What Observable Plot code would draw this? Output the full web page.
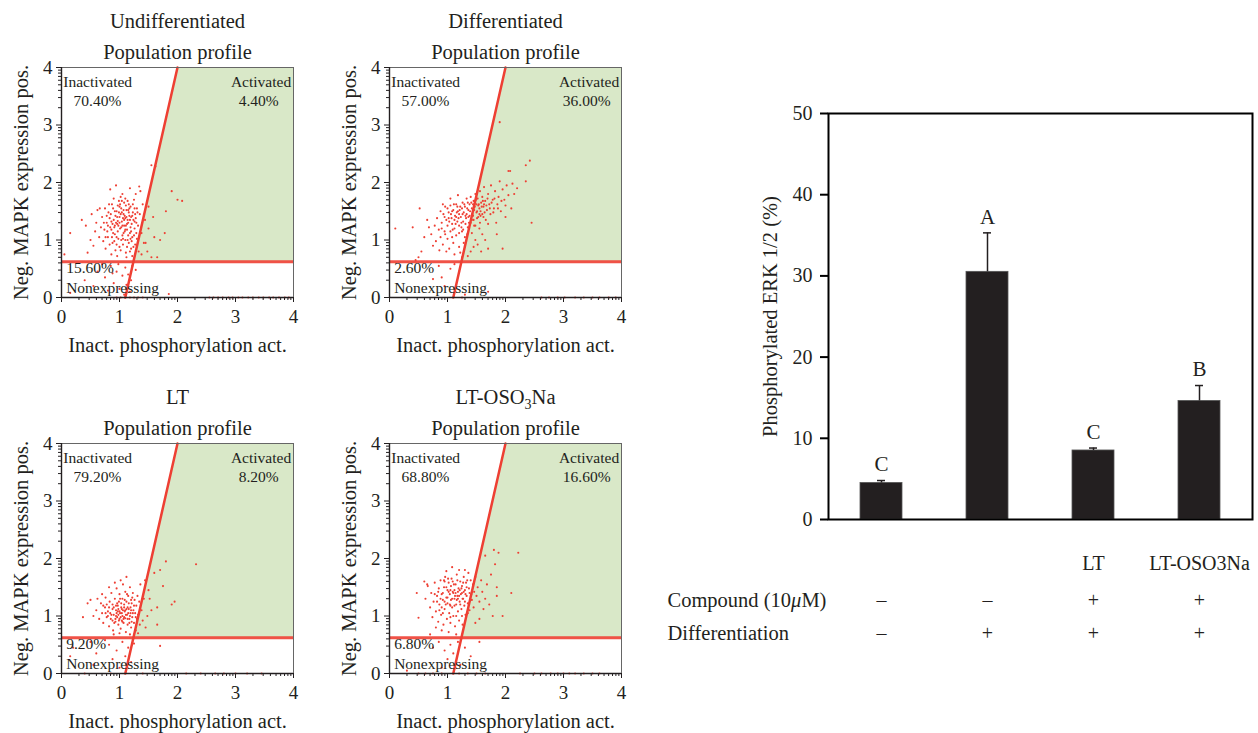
<!DOCTYPE html>
<html>
<head>
<meta charset="utf-8">
<script src="https://cdn.jsdelivr.net/npm/d3@7"></script>
<script src="https://cdn.jsdelivr.net/npm/@observablehq/plot@0.6"></script>
<style>
  body { margin: 0; background: #fff; }
  #wrap { position: relative; width: 1258px; height: 733px; overflow: hidden; background: #fff; }
  #wrap svg { position: absolute; }
</style>
</head>
<body>
<div id="wrap"></div>
<script>
// ---------------- DATA ----------------
const panelTitles = ["Undifferentiated", "Differentiated", "LT", "LT-OSO3Na"];
const panelSubtitle = "Population profile";
const inactivatedPct = ["70.40%", "57.00%", "79.20%", "68.80%"];
const activatedPct = ["4.40%", "36.00%", "8.20%", "16.60%"];
const nonexpressingPct = ["15.60%", "2.60%", "9.20%", "6.80%"];
const scatterXLabel = "Inact. phosphorylation act.";
const scatterYLabel = "Neg. MAPK expression pos.";
const scatterTicks = [0, 1, 2, 3, 4];
const gateLine = [[1.1, 0], [2.0, 4]];   // diagonal gate (x at y=0, x at y=4)
const gateY = 0.62;                      // horizontal gate

const undiffPoints = [
[0.62,1.52],[0.70,1.40],[0.68,1.22],[0.75,1.55],[0.78,1.30],[0.80,1.05],[0.82,1.62],[0.85,1.45],[0.86,1.18],[0.88,0.95],[0.90,1.72],[0.90,1.35],[0.92,1.10],[0.93,0.82],[0.95,1.50],[0.96,1.28],[0.97,1.60],[0.98,1.02],[1.00,1.40],[1.00,0.88],[1.01,1.20],[1.02,1.75],[1.03,1.55],[1.04,1.32],[1.05,1.08],[1.06,0.92],[1.07,1.45],[1.08,1.65],[1.08,1.25],[1.10,1.38],[1.10,1.00],[1.11,0.78],[1.12,1.52],[1.13,1.18],[1.14,1.68],[1.15,1.30],[1.16,0.95],[1.17,1.42],[1.18,1.12],[1.19,1.58],[1.20,0.85],[1.21,1.28],[1.22,1.05],[1.23,1.48],[1.25,1.70],[1.26,1.20],[1.27,0.92],[1.28,1.38],[1.30,1.55],[1.30,1.02],[1.32,1.25],[1.33,0.80],[1.35,1.45],[1.36,1.85],[1.38,1.12],[1.40,1.62],[1.42,0.95],[0.72,0.98],[0.76,0.85],[0.65,1.05],[0.58,1.15],[0.55,0.90],[0.84,1.88],[0.94,1.95],[1.05,1.80],[1.18,1.90],[1.28,1.80],[1.34,1.93],[0.98,1.25],[1.09,1.15],[0.88,1.28],[1.03,1.00],[1.14,1.35],[0.93,1.42],[1.24,1.35],[0.79,1.15],[1.00,1.58],[1.12,0.70],[0.96,0.72],[0.86,0.75],[1.22,0.72],[1.38,0.75],[0.83,1.38],[0.91,1.22],[0.99,1.48],[1.06,1.38],[1.11,1.25],[1.16,1.48],[1.20,1.40],[1.26,1.55],[0.89,1.55],[0.81,1.48],[0.74,1.18],[0.95,1.05],[1.04,1.68],[1.13,0.88],[1.19,1.02],[1.29,1.12],[0.97,1.33],[1.07,1.52],[0.87,1.05],[1.02,0.82],
[0.84,1.22],[0.87,1.62],[0.91,0.98],[0.94,1.30],[0.97,1.15],[1.01,1.62],[1.03,1.22],[1.06,1.02],[1.09,1.42],[1.11,1.60],[1.13,1.28],[1.15,1.08],[1.17,1.55],[1.19,1.22],[1.21,0.98],[1.23,1.62],[1.25,1.08],[1.27,1.45],[1.29,1.30],[1.31,1.48],[0.86,1.32],[0.89,1.12],[0.92,1.50],[0.95,0.92],[0.99,1.68],[1.02,1.45],[1.05,1.25],[1.08,1.35],[1.10,1.18],[1.12,1.40],[1.14,1.00],[1.16,1.62],[1.18,1.35],[1.20,1.15],[1.22,1.42],[1.24,0.88],[1.26,1.32],[0.78,1.42],[0.80,1.25],[0.83,0.92],[0.76,1.05],[0.73,1.30],[1.00,1.30],[1.04,1.48],[1.07,1.12],[1.10,1.72],[0.96,1.40],[0.92,1.25],[1.15,1.52],[1.18,0.80],
[0.15,1.12],[0.35,1.35],[0.05,0.75],[0.42,1.25],[0.50,1.00],[0.45,0.78],[0.60,1.30],[0.52,1.45],[0.66,1.55],
[0.62,0.45],[0.75,0.35],[0.85,0.55],[0.90,0.25],[0.95,0.45],[1.00,0.15],[1.05,0.38],[1.10,0.52],[1.12,0.22],[1.15,0.40],[1.18,0.10],[1.20,0.30],[1.22,0.55],[0.80,0.12],[0.70,0.58],[0.15,0.08],[0.40,0.30],[1.28,0.48],[0.55,0.20],[0.98,0.58],[1.08,0.05],[0.88,0.42],
[1.55,2.30],[1.62,2.28],[1.90,1.85],[2.00,1.70],[2.08,1.68],[1.80,1.50],[1.58,1.40],[1.70,1.00],[1.78,1.12],[1.60,1.05],[1.50,1.20],[1.45,0.95],[1.55,0.70],[1.65,0.70],[1.48,0.80],[1.44,1.35],[1.50,1.58],
[0.95,0],[1.02,0],[1.10,0],[1.18,0],[1.25,0],[1.32,0],[1.40,0],[1.85,0.06],[2.55,0],[2.62,0],[2.70,0],[2.78,0],[2.88,0],[2.95,0],[3.05,0],[3.12,0],[3.22,0],[3.30,0],[3.40,0],[3.48,0],[3.58,0],[3.65,0],[3.75,0],[3.85,0],[3.92,0]
];

const diffPoints = [
[0.72,1.10],[0.78,1.25],[0.80,0.98],[0.82,1.38],[0.85,1.18],[0.88,1.50],[0.88,1.05],[0.90,1.30],[0.92,0.92],[0.93,1.45],[0.95,1.15],[0.96,1.58],[0.98,1.35],[1.00,1.02],[1.00,1.25],[1.02,1.48],[1.03,0.85],[1.05,1.60],[1.05,1.15],[1.07,1.38],[1.08,1.28],[1.10,1.52],[1.10,0.95],[1.12,1.20],[1.13,1.42],[1.15,1.62],[1.15,1.08],[1.17,1.32],[1.18,1.50],[1.20,0.88],[1.20,1.25],[1.22,1.58],[1.23,1.40],[1.25,1.15],[1.26,1.65],[1.27,1.32],[1.28,1.48],[1.30,1.05],[1.30,1.58],[1.32,1.38],[1.33,1.72],[1.35,1.22],[1.36,1.52],[1.38,1.62],[1.38,1.42],[1.40,1.30],[1.40,1.75],[1.42,1.55],[1.43,1.45],[1.45,1.68],[1.45,1.35],[1.47,1.58],[1.48,1.80],[1.50,1.48],[1.50,1.62],[1.52,1.72],[1.53,1.40],[1.55,1.55],[1.56,1.85],[1.58,1.65],[1.60,1.45],[1.60,1.75],[1.62,1.58],[1.63,1.92],[1.65,1.68],[1.66,1.35],[1.68,1.52],[1.70,1.80],[1.72,1.62],[1.74,1.45],[1.75,1.95],[1.78,1.70],[1.80,1.55],[1.82,1.85],[1.84,1.30],[1.86,1.62],[1.88,1.75],[1.90,2.02],[1.92,1.50],[1.95,1.88],[1.98,1.70],[2.00,1.60],[2.02,1.95],[2.05,1.78],[2.08,2.20],[2.10,1.55],[2.12,1.98],[2.15,1.80],[2.20,1.90],[1.34,1.10],[1.42,1.12],[1.48,1.00],[1.55,1.20],[1.60,1.10],[1.65,1.00],[1.70,1.28],[1.52,0.92],[1.45,0.88],[1.40,0.80],[1.35,0.72],[1.58,0.80],[1.70,0.85],[1.48,1.25],[1.56,1.30],[1.28,0.95],[1.22,0.78],[1.12,0.75],[0.98,0.80],[0.86,0.82],[0.75,0.90],[0.68,1.22],[0.65,1.35],[0.92,1.62],[1.05,1.72],[1.18,1.78],[1.25,0.70],[1.02,1.38],[1.08,1.05],[1.15,1.40],[1.20,1.45],[1.24,1.22],[1.31,1.28],[1.36,1.40],[1.44,1.62],[1.51,1.50],[1.57,1.42],[1.63,1.62],
[0.95,1.40],[1.00,1.55],[1.03,1.32],[1.06,1.45],[1.09,1.18],[1.11,1.62],[1.14,1.28],[1.16,1.48],[1.19,1.38],[1.21,1.52],[1.24,1.30],[1.26,1.45],[1.29,1.62],[1.31,1.42],[1.34,1.55],[1.37,1.30],[1.39,1.50],[1.41,1.65],[1.44,1.42],[1.46,1.52],[1.49,1.70],[1.51,1.38],[1.54,1.62],[1.57,1.50],[1.59,1.58],[1.61,1.68],[1.64,1.48],[1.67,1.60],[1.69,1.72],[1.73,1.55],[1.76,1.65],[1.79,1.48],[1.81,1.72],[1.87,1.55],[1.93,1.68],[1.20,1.12],[1.27,1.18],[1.33,1.45],[1.46,1.25],[1.53,1.60],[0.90,1.20],[0.96,1.10],[1.08,1.50],[1.17,1.58],[1.35,1.65],[1.42,1.35],[1.55,1.45],[1.62,1.40],[1.25,1.55],[1.12,1.35],
[0.10,1.20],[0.40,1.22],[0.52,1.55],[0.55,0.80],[0.50,0.70],[0.45,0.65],[0.60,1.05],[1.90,3.05],[2.35,2.30],[2.42,2.38],[2.35,2.02],[2.05,2.20],[2.45,1.30],[1.95,0.85],[2.00,1.40],[1.85,1.10],
[0.85,0.55],[0.90,0.35],[1.05,0.50],[1.20,0.45],[0.75,0.32],[1.30,0.05],[1.70,0.10],[0.95,0.20],[1.12,0.58],
[1.25,0],[2.62,0],[2.75,0],[2.90,0],[3.02,0],[3.20,0],[3.35,0],[3.50,0],[3.62,0],[3.78,0],[3.90,0]
];

const ltPoints = [
[0.60,1.10],[0.65,0.95],[0.68,1.22],[0.70,1.05],[0.72,0.88],[0.75,1.15],[0.76,1.32],[0.78,0.98],[0.80,1.08],[0.82,0.82],[0.83,1.25],[0.85,0.95],[0.86,1.40],[0.88,1.12],[0.89,0.75],[0.90,1.02],[0.92,1.30],[0.93,0.90],[0.94,1.18],[0.95,1.48],[0.96,0.98],[0.97,1.08],[0.98,0.85],[0.99,1.25],[1.00,0.95],[1.00,1.38],[1.01,1.05],[1.02,0.78],[1.03,1.15],[1.04,0.92],[1.05,1.30],[1.05,1.00],[1.06,1.55],[1.07,0.88],[1.08,1.20],[1.09,1.08],[1.10,0.96],[1.10,1.42],[1.11,0.72],[1.12,1.25],[1.13,1.02],[1.14,0.85],[1.15,1.35],[1.16,1.12],[1.17,0.95],[1.18,1.50],[1.19,1.05],[1.20,0.80],[1.21,1.22],[1.22,0.98],[1.23,1.40],[1.24,1.10],[1.25,0.88],[1.26,1.28],[1.27,1.05],[1.28,0.75],[1.29,1.18],[1.30,0.95],[1.31,1.35],[1.32,1.02],[1.34,1.25],[1.35,0.85],[1.36,1.55],[1.38,1.10],[1.40,0.92],[1.42,1.30],[1.44,1.62],[0.92,1.58],[1.02,1.62],[1.12,1.68],[0.84,1.05],[0.94,1.00],[1.04,1.12],[0.98,1.02],[1.08,0.98],[0.88,0.92],[1.14,1.15],[0.78,1.20],[0.70,1.38],[0.62,1.30],[0.55,1.00],[0.90,0.68],[1.00,0.70],[1.18,0.68],[1.32,0.70],[0.82,1.50],[1.20,1.28],[0.96,1.22],
[0.86,1.02],[0.90,1.15],[0.93,0.95],[0.95,1.05],[0.97,1.18],[1.00,1.08],[1.02,0.98],[1.03,1.22],[1.06,1.10],[1.07,0.95],[1.09,1.28],[1.11,1.02],[1.12,1.12],[1.14,0.95],[1.16,1.22],[1.18,1.00],[1.19,1.15],[1.21,0.90],[1.23,1.05],[1.25,1.18],[0.88,1.20],[0.91,0.88],[0.94,1.10],[0.99,0.92],[1.01,1.30],[1.05,0.90],[1.08,1.15],[1.13,1.38],[1.17,0.88],[1.22,1.32],[0.80,1.00],[0.82,1.15],[0.76,1.05],[0.72,1.18],[0.98,1.12],[1.04,1.05],[1.10,1.10],[1.15,1.05],[1.20,1.10],[1.28,0.98],
[0.37,0.98],[0.50,1.28],[0.45,1.22],[1.80,1.95],[2.32,1.90],[1.75,1.52],[1.95,1.25],[1.90,1.20],[1.65,1.15],[1.65,0.85],[1.52,1.30],[1.60,1.75],[1.70,1.80],[1.48,1.00],[1.55,1.10],[1.45,0.80],[1.50,1.45],
[1.70,0.48],[0.60,0.35],[0.82,0.50],[0.95,0.40],[1.05,0.55],[1.10,0.30],[1.15,0.45],[1.20,0.20],[1.25,0.52],[0.88,0.25],[0.75,0.58],[0.50,0.55],[1.00,0.10],[0.20,0.45],[0.15,0.30],[0.55,0.15],
[0.40,0],[0.85,0],[1.40,0],[2.15,0],[2.40,0],[2.65,0],[2.80,0],[3.00,0],[3.20,0],[3.45,0]
];

const ltsPoints = [
[0.62,1.30],[0.66,1.52],[0.70,1.15],[0.72,1.40],[0.74,0.98],[0.76,1.25],[0.78,1.58],[0.80,1.08],[0.82,1.35],[0.84,0.90],[0.85,1.48],[0.86,1.20],[0.88,1.62],[0.89,1.02],[0.90,1.38],[0.92,1.28],[0.93,0.85],[0.94,1.50],[0.95,1.12],[0.96,1.68],[0.98,1.32],[0.99,0.95],[1.00,1.45],[1.00,1.22],[1.02,1.58],[1.03,1.05],[1.04,1.38],[1.05,0.88],[1.06,1.28],[1.07,1.65],[1.08,1.15],[1.09,1.42],[1.10,1.00],[1.11,1.55],[1.12,1.30],[1.13,0.82],[1.14,1.40],[1.15,1.20],[1.16,1.72],[1.17,1.35],[1.18,1.08],[1.19,1.48],[1.20,0.92],[1.21,1.25],[1.22,1.60],[1.23,1.38],[1.24,1.12],[1.25,1.52],[1.26,0.85],[1.27,1.30],[1.28,1.68],[1.29,1.18],[1.30,1.45],[1.31,1.02],[1.32,1.58],[1.33,1.35],[1.35,1.22],[1.36,1.75],[1.37,1.48],[1.38,1.10],[1.40,1.62],[1.41,1.38],[1.42,1.28],[1.44,1.55],[1.45,1.15],[1.46,1.42],[1.48,1.68],[1.50,1.35],[1.52,1.50],[1.55,1.25],[1.58,1.62],[1.60,1.42],[1.62,1.12],[1.65,1.30],[1.68,1.55],[0.90,0.75],[1.02,0.72],[1.15,0.68],[0.80,0.80],[0.70,0.68],[1.08,1.85],[0.98,1.78],[1.20,1.80],[1.30,1.80],[0.92,1.05],[1.05,1.18],[1.12,1.45],[1.18,1.30],[1.25,1.40],[0.84,1.42],[0.95,1.60],[1.35,1.05],
[0.92,1.40],[0.95,1.25],[0.98,1.50],[1.00,1.32],[1.02,1.42],[1.04,1.20],[1.06,1.52],[1.08,1.30],[1.10,1.40],[1.12,1.18],[1.14,1.55],[1.16,1.28],[1.18,1.42],[1.20,1.35],[1.22,1.20],[1.24,1.48],[1.26,1.30],[1.28,1.42],[1.30,1.25],[1.33,1.50],[0.88,1.30],[0.90,1.15],[0.94,1.62],[0.97,1.20],[1.01,1.65],[1.05,1.45],[1.09,1.60],[1.13,1.35],[1.17,1.62],[1.21,1.45],[1.27,1.58],[1.31,1.38],[1.34,1.62],[1.38,1.40],[0.86,1.10],[0.82,1.25],[0.78,1.38],[1.15,1.00],[1.25,1.00],[1.05,0.98],
[0.47,1.40],[0.50,0.97],[0.65,1.55],[0.60,1.60],[1.80,2.15],[1.88,2.10],[2.22,2.10],[2.10,1.40],[1.95,1.00],[1.85,1.50],[1.85,1.35],[1.78,1.00],[1.72,1.20],[1.82,1.90],[1.65,2.05],[1.75,1.72],[1.55,0.95],[1.48,0.88],
[0.85,0.55],[0.95,0.40],[1.00,0.25],[1.05,0.50],[1.10,0.35],[1.18,0.55],[1.22,0.15],[1.30,0.45],[0.90,0.10],[0.75,0.45],[1.40,0.30],[1.55,0.55],[0.30,0.05],
[0.50,0],[0.62,0],[0.75,0],[0.90,0],[1.20,0],[1.35,0],[1.50,0],[1.65,0],[2.25,0],[2.50,0],[2.62,0],[2.78,0],[2.90,0],[3.00,0],[3.10,0],[3.20,0],[3.35,0],[3.50,0],[3.62,0]
];
const panelPoints = [undiffPoints, diffPoints, ltPoints, ltsPoints];

// Bar chart
const barConditions = ["Undifferentiated", "Differentiated", "LT", "LT-OSO3Na"];
const barValues = [4.5, 30.5, 8.5, 14.6];
const barErrors = [0.3, 4.8, 0.3, 1.9];
const sigLetters = ["C", "A", "C", "B"];
const compoundNames = ["", "", "LT", "LT-OSO3Na"];
const compoundRow = ["–", "–", "+", "+"];
const differentiationRow = ["–", "+", "+", "+"];
const rowLabels = ["Compound (10μM)", "Differentiation"];
const barYLabel = "Phosphorylated ERK 1/2 (%)";
const barTicks = [0, 10, 20, 30, 40, 50];

// ---------------- STYLE ----------------
const FONT = "Liberation Serif, Times New Roman, serif";
const INK = "#231f20";
const RED = "#ee3f33";
const GREEN = "#d9e8c8";
const fmt = d => String(d);

const minorTicks = [];
for (const d of [0, 1, 2, 3]) for (let k = 2; k <= 9; k++) minorTicks.push(d + Math.log10(k));

function gateXAt(y) {
  const [[x0, y0], [x1, y1]] = gateLine;
  return x0 + (x1 - x0) * (y - y0) / (y1 - y0);
}

function label(str, opts) {
  return Plot.text([str], {text: d => d, fill: INK, lineAnchor: "middle", ...opts});
}

function panel(i) {
  const region = [
    {y: gateY, x1: gateXAt(gateY), x2: 4},
    {y: 4, x1: gateXAt(4), x2: 4}
  ];
  return Plot.plot({
    width: 328, height: 357,
    marginLeft: 61, marginRight: 35, marginTop: 67, marginBottom: 60,
    x: {domain: [0, 4], label: null},
    y: {domain: [0, 4], label: null},
    style: {fontFamily: FONT, fontSize: "19px", color: INK, background: "transparent", overflow: "visible"},
    marks: [
      Plot.areaX(region, {y: "y", x1: "x1", x2: "x2", fill: GREEN}),
      Plot.dot(panelPoints[i], {r: 1.05, fill: RED, stroke: null}),
      Plot.ruleY([gateY], {stroke: RED, strokeWidth: 3, strokeOpacity: 0.9}),
      Plot.line(gateLine, {stroke: RED, strokeWidth: 2.5}),
      Plot.frame({stroke: "#666", strokeWidth: 1}),
      Plot.ruleX([0], {stroke: INK, strokeWidth: 1.4}),
      Plot.ruleY([0], {stroke: INK, strokeWidth: 1.4}),
      Plot.axisX({ticks: scatterTicks, tickFormat: fmt, tickSize: 5, tickPadding: 7, fontSize: 19, label: null, stroke: INK}),
      Plot.axisX({ticks: minorTicks, tickSize: 3, tickFormat: () => "", label: null, stroke: INK}),
      Plot.axisY({ticks: scatterTicks, tickFormat: fmt, tickSize: 5, tickPadding: 4, fontSize: 19, label: null, stroke: INK}),
      Plot.axisY({ticks: minorTicks, tickSize: 3, tickFormat: () => "", label: null, stroke: INK}),
      label(panelTitles[i], {frameAnchor: "top", dy: -46, fontSize: 20.5}),
      label(panelSubtitle, {frameAnchor: "top", dy: -15, fontSize: 20.5}),
      label(scatterXLabel, {frameAnchor: "bottom", dy: 48, fontSize: 20.5}),
      label(scatterYLabel, {frameAnchor: "left", textAnchor: "middle", dx: -40, rotate: -90, fontSize: 20.5}),
      label("Inactivated", {x: 0.03, y: 3.74, textAnchor: "start", fontSize: 15.5}),
      label(inactivatedPct[i], {x: 0.62, y: 3.41, fontSize: 15.5}),
      label("Activated", {x: 3.96, y: 3.74, textAnchor: "end", fontSize: 15.5}),
      label(activatedPct[i], {x: 3.4, y: 3.41, fontSize: 15.5}),
      label(nonexpressingPct[i], {x: 0.08, y: 0.52, textAnchor: "start", fontSize: 15.5}),
      label("Nonexpressing", {x: 0.08, y: 0.17, textAnchor: "start", fontSize: 15.5})
    ]
  });
}

function barChart() {
  const data = barConditions.map((c, i) => ({
    key: c, value: barValues[i], top: barValues[i] + barErrors[i],
    letter: sigLetters[i], comp: compoundNames[i], c: compoundRow[i], d: differentiationRow[i]
  }));
  return Plot.plot({
    width: 598, height: 580,
    marginLeft: 168, marginRight: 6, marginTop: 33, marginBottom: 141,
    x: {domain: barConditions, paddingInner: 0.6, paddingOuter: 0.29, axis: null},
    y: {domain: [0, 50], label: null},
    style: {fontFamily: FONT, fontSize: "20px", color: INK, background: "transparent", overflow: "visible"},
    marks: [
      Plot.barY(data, {x: "key", y: "value", fill: INK, stroke: "#555", strokeWidth: 0.8}),
      Plot.ruleX(data, {x: "key", y1: "value", y2: "top", stroke: INK, strokeWidth: 1.5}),
      Plot.tickY(data, {x: "key", y: "top", insetLeft: 17, insetRight: 17, stroke: INK, strokeWidth: 1.5}),
      Plot.text(data, {x: "key", y: "top", text: "letter", dy: -16, fontSize: 21, fill: INK}),
      Plot.frame({stroke: "#000", strokeWidth: 2}),
      Plot.axisY({ticks: barTicks, tickFormat: fmt, tickSize: 8, tickPadding: 8, fontSize: 20, label: null, stroke: "#000", strokeWidth: 2}),
      label(barYLabel, {frameAnchor: "left", textAnchor: "middle", dx: -58, rotate: -90, fontSize: 20.5}),
      Plot.text(data, {x: "key", text: "comp", frameAnchor: "bottom", lineAnchor: "middle", dy: 44, fontSize: 20, fill: INK}),
      Plot.text(data, {x: "key", text: "c", frameAnchor: "bottom", lineAnchor: "middle", dy: 81, fontSize: 20, fill: INK}),
      Plot.text(data, {x: "key", text: "d", frameAnchor: "bottom", lineAnchor: "middle", dy: 114, fontSize: 20, fill: INK}),
      label(rowLabels[0], {frameAnchor: "bottom-left", dx: -161, dy: 81, textAnchor: "start", fontSize: 20.5}),
      label(rowLabels[1], {frameAnchor: "bottom-left", dx: -161, dy: 114, textAnchor: "start", fontSize: 20.5})
    ]
  });
}

const ns = "http://www.w3.org/2000/svg";
const wrap = document.getElementById("wrap");
const positions = [[0, 0], [327.7, 0], [0, 376], [327.7, 376]];
positions.forEach(([l, t], i) => {
  const svg = panel(i);
  svg.style.left = l + "px";
  svg.style.top = t + "px";
  wrap.appendChild(svg);
  if (i === 3) {
    svg.querySelectorAll("text").forEach(el => {
      if (el.textContent === "LT-OSO3Na") {
        el.textContent = "";
        const a = document.createElementNS(ns, "tspan"); a.textContent = "LT-OSO";
        const b = document.createElementNS(ns, "tspan"); b.textContent = "3"; b.setAttribute("dy", "5"); b.setAttribute("font-size", "14");
        const c = document.createElementNS(ns, "tspan"); c.textContent = "Na"; c.setAttribute("dy", "-5");
        el.append(a, b, c);
      }
    });
  }
});
const bar = barChart();
bar.style.left = "660px";
bar.style.top = "80px";
wrap.appendChild(bar);
bar.querySelectorAll("text").forEach(el => {
  if (el.textContent === "Compound (10μM)") {
    el.textContent = "";
    const a = document.createElementNS(ns, "tspan"); a.textContent = "Compound (10";
    const b = document.createElementNS(ns, "tspan"); b.textContent = "μ"; b.setAttribute("font-style", "italic");
    const c = document.createElementNS(ns, "tspan"); c.textContent = "M)";
    el.append(a, b, c);
  }
});
</script>
</body>
</html>
